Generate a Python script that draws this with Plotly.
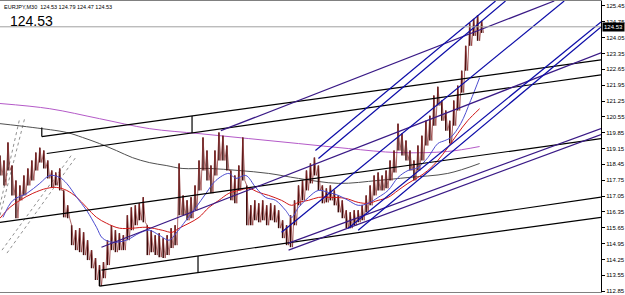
import plotly.graph_objects as go

# ---------------- data ----------------
symbol_text = "EURJPY,M30  124.53 124.79 124.47 124.53"
last_price = 124.53

# bar time positions (chart time units)
bar_t = list(range(0, 485, 4))
bar_high = [118.84, 118.62, 119.42, 118.40, 117.74, 117.52, 117.96, 118.27, 118.62, 118.97,
            119.19, 119.06, 118.62, 118.18, 118.09, 118.27, 117.30, 116.64, 115.76, 115.54,
            115.63, 115.45, 115.10, 114.66, 114.31, 114.00, 114.13, 115.10, 115.76, 115.54,
            115.41, 115.32, 116.20, 116.55, 116.64, 116.73, 117.00, 115.76, 115.54, 115.32,
            115.41, 115.19, 115.32, 115.63, 115.76, 118.49, 117.08, 116.86, 117.00, 117.52,
            118.62, 119.64, 119.06, 118.40, 119.06, 119.86, 119.72, 119.28, 118.18, 117.96,
            118.40, 119.64, 117.52, 116.64, 116.86, 116.73, 116.86, 116.64, 116.73, 116.64,
            116.42, 115.98, 115.76, 116.20, 116.86, 117.52, 117.74, 118.18, 118.49, 118.75,
            118.40, 117.52, 117.39, 117.52, 117.30, 117.08, 116.86, 116.42, 116.33, 116.42,
            116.42, 116.64, 117.08, 117.52, 117.96, 118.09, 117.96, 118.18, 118.62, 119.06,
            120.25, 119.81, 119.50, 119.06, 118.62, 119.28, 119.72, 120.38, 120.60, 121.49,
            121.88, 121.27, 120.83, 120.38, 121.27, 121.93, 122.59, 123.69, 124.70, 124.88,
            125.05, 124.79]
bar_low = [117.96, 117.52, 118.18, 117.08, 116.07, 116.86, 117.08, 117.52, 117.74, 118.18,
           118.53, 118.27, 117.83, 117.43, 117.52, 117.30, 116.11, 116.07, 114.88, 114.66,
           114.57, 114.44, 114.22, 113.86, 113.34, 113.07, 113.42, 114.00, 114.66, 114.57,
           114.66, 114.66, 115.10, 115.54, 115.76, 115.98, 115.89, 114.44, 114.57, 114.44,
           114.35, 114.31, 114.44, 114.75, 114.88, 116.20, 116.20, 115.98, 116.07, 116.42,
           117.30, 118.18, 117.74, 117.17, 117.96, 118.62, 118.62, 118.18, 116.86, 116.73,
           117.30, 117.74, 115.76, 115.76, 115.98, 115.89, 115.98, 115.76, 115.98, 115.89,
           115.63, 115.19, 114.88, 114.79, 115.76, 116.64, 116.86, 117.30, 117.61, 117.96,
           117.30, 116.73, 116.77, 116.86, 116.64, 116.33, 116.07, 115.63, 115.63, 115.76,
           115.89, 115.98, 116.33, 116.64, 117.08, 117.30, 117.30, 117.39, 117.74, 118.09,
           119.06, 118.84, 118.62, 118.18, 117.74, 118.18, 118.62, 119.28, 119.50, 120.16,
           121.05, 120.38, 119.94, 119.37, 120.16, 120.83, 121.62, 122.59, 123.69, 124.13,
           123.91, 124.26]

# moving averages (sampled)
ma_fast_t = [3, 13, 27, 40, 50, 60, 67, 77, 87, 97, 103, 113, 127, 140, 150, 160, 170, 177,
             187, 197, 207, 217, 230, 237, 247, 257, 267, 277, 287, 293, 300, 310, 320, 330,
             340, 350, 360, 370, 380, 390, 400, 410, 420, 430, 440, 447, 453, 463, 473, 482]
ma_fast = [116.11, 116.86, 117.17, 117.61, 117.96, 117.87, 117.61, 117.00, 116.42, 115.67,
           115.19, 115.01, 115.10, 115.41, 115.54, 115.32, 115.10, 115.41, 115.98, 116.55,
           117.17, 117.74, 118.05, 117.83, 117.96, 117.43, 116.99, 116.86, 116.42, 116.11,
           116.55, 116.99, 117.30, 117.21, 117.08, 116.86, 116.64, 116.73, 116.99, 117.30,
           117.87, 118.18, 118.31, 118.75, 119.37, 119.50, 119.64, 120.25, 121.27, 122.28]

ma_mid_t = [0, 10, 20, 33, 47, 57, 67, 77, 87, 97, 107, 120, 133, 147, 163, 173, 180, 190,
            200, 210, 220, 230, 240, 250, 260, 270, 283, 293, 300, 310, 320, 333, 347, 360,
            370, 380, 390, 400, 410, 420, 430, 440, 450, 460, 470, 482]
ma_mid = [116.07, 116.55, 116.86, 117.17, 117.39, 117.43, 117.30, 117.00, 116.55, 116.11,
          115.85, 115.63, 115.63, 115.67, 115.54, 115.45, 115.63, 115.85, 116.11, 116.55,
          116.86, 117.17, 117.30, 117.39, 117.21, 117.08, 116.86, 116.64, 116.77, 116.86,
          116.99, 116.99, 116.95, 116.77, 116.73, 116.86, 116.99, 117.30, 117.61, 117.87,
          118.18, 118.62, 119.19, 119.81, 120.38, 120.91]

ma_slow_t = [0, 33, 67, 83, 100, 117, 133, 150, 167, 183, 210, 240, 270, 300, 340, 380,
             410, 450, 482]
ma_slow = [120.25, 120.08, 119.86, 119.64, 119.37, 119.06, 118.75, 118.53, 118.40, 118.27,
           118.27, 118.18, 118.05, 117.83, 117.61, 117.74, 117.87, 118.05, 118.49]

ma_long_t = [0, 50, 100, 150, 200, 250, 300, 350, 400, 450, 482]
ma_long = [121.14, 120.91, 120.47, 120.03, 119.81, 119.59, 119.37, 119.15, 118.97, 119.02,
           119.24]

# trend lines: (t0, price0, t1, price1)
black_lines = [
    (42, 119.68, 604, 123.07),
    (47, 118.93, 604, 122.41),
    (0, 115.89, 604, 119.59),
    (102, 113.78, 604, 117.00),
    (100, 113.07, 604, 116.11),
    (42, 119.68, 42, 120.08),
    (193, 120.59, 193, 119.84),
    (100, 113.78, 100, 113.07),
    (199, 114.40, 199, 113.67),
]
purple_lines = [
    (102, 114.79, 604, 123.38),
    (222, 119.94, 557, 125.67),
    (290, 114.97, 604, 120.03),
    (290, 114.66, 604, 119.77),
]
blue_lines = [
    (317, 119.06, 498, 125.67),
    (320, 118.71, 508, 125.67),
    (283, 115.45, 567, 125.67),
    (350, 115.63, 604, 124.74),
    (360, 115.54, 604, 124.52),
]
dashed_lines = [
    (0, 116.64, 20, 120.52),
    (0, 116.20, 25, 120.52),
    (2, 114.66, 73, 118.93),
    (7, 114.53, 76, 118.75),
]

tick_vals = [125.45, 124.75, 124.05, 123.35, 122.65, 121.95, 121.25, 120.55, 119.85,
             119.15, 118.45, 117.75, 117.05, 116.35, 115.65, 114.95, 114.25, 113.55, 112.85]

# ---------------- figure ----------------
fig = go.Figure()


def seg_trace(lines, color, width, dash="solid"):
    xs, ys = [], []
    for t0, p0, t1, p1 in lines:
        xs += [t0, t1, None]
        ys += [p0, p1, None]
    return go.Scatter(x=xs, y=ys, mode="lines", line=dict(color=color, width=width, dash=dash),
                      hoverinfo="skip", showlegend=False)


fig.add_trace(seg_trace(dashed_lines, "#909090", 1, "dot"))

# moving averages (long ones behind the bars)
fig.add_trace(go.Scatter(x=ma_long_t, y=ma_long, mode="lines", line=dict(color="#b45ac8", width=1, shape="spline"),
                         showlegend=False, hoverinfo="skip"))
fig.add_trace(go.Scatter(x=ma_slow_t, y=ma_slow, mode="lines", line=dict(color="#505050", width=1, shape="spline"),
                         showlegend=False, hoverinfo="skip"))

# price bars
bx, by = [], []
for t, h, l in zip(bar_t, bar_high, bar_low):
    bx += [t, t, None]
    by += [h, l, None]
fig.add_trace(go.Scatter(x=bx, y=by, mode="lines", line=dict(color="#3a0808", width=1.5),
                         showlegend=False, hoverinfo="skip"))
zx, zy = [], []
for t, h, l in zip(bar_t, bar_high, bar_low):
    zx += [t, t + 2]
    zy += [h, l]
fig.add_trace(go.Scatter(x=zx, y=zy, mode="lines", line=dict(color="#8a2a2a", width=0.7),
                         showlegend=False, hoverinfo="skip"))

fig.add_trace(go.Scatter(x=ma_mid_t, y=ma_mid, mode="lines", line=dict(color="#d01818", width=1, shape="spline"),
                         showlegend=False, hoverinfo="skip"))
fig.add_trace(go.Scatter(x=ma_fast_t, y=ma_fast, mode="lines", line=dict(color="#4c4cd0", width=1, shape="spline"),
                         showlegend=False, hoverinfo="skip"))

fig.add_trace(seg_trace(black_lines, "#000000", 1.2))
fig.add_trace(seg_trace(purple_lines, "#3a1a86", 1.2))
fig.add_trace(seg_trace(blue_lines, "#0c0ca8", 1.2))

# bid line
fig.add_trace(go.Scatter(x=[0, 604], y=[last_price, last_price], mode="lines",
                         line=dict(color="#a0a0a0", width=1), showlegend=False, hoverinfo="skip"))

fig.update_layout(
    width=625, height=295,
    margin=dict(l=0, r=21, t=0, b=3),
    paper_bgcolor="white", plot_bgcolor="white",
    showlegend=False,
    xaxis=dict(range=[0, 604], showgrid=False, zeroline=False, showticklabels=False, ticks="",
               showline=True, linecolor="#808080", linewidth=1, mirror=True, fixedrange=True),
    yaxis=dict(range=[112.81, 125.67], side="right", tickvals=tick_vals,
               ticktext=[f"{v:.2f}" for v in tick_vals], showgrid=False, zeroline=False,
               ticks="outside", ticklen=3, tickcolor="#000", showline=True, linecolor="#000",
               linewidth=1, mirror=False,
               tickfont=dict(family="Liberation Sans", size=6, color="#000"), fixedrange=True),
)

fig.add_annotation(xref="paper", yref="y", x=1, y=last_price, xanchor="left", yanchor="middle",
                   text=f"{last_price:.2f}", showarrow=False, bgcolor="#000", borderpad=1,
                   font=dict(family="Liberation Sans", size=6, color="#fff"), xshift=1)
fig.add_annotation(xref="paper", yref="paper", x=0.004, y=0.995, xanchor="left", yanchor="top",
                   text=symbol_text, showarrow=False,
                   font=dict(family="Liberation Sans", size=5.5, color="#000"))
fig.add_annotation(xref="paper", yref="paper", x=0.013, y=0.965, xanchor="left", yanchor="top",
                   text=f"{last_price:.2f}", showarrow=False,
                   font=dict(family="Liberation Sans", size=14, color="#000"))

fig.write_html("out.html")
